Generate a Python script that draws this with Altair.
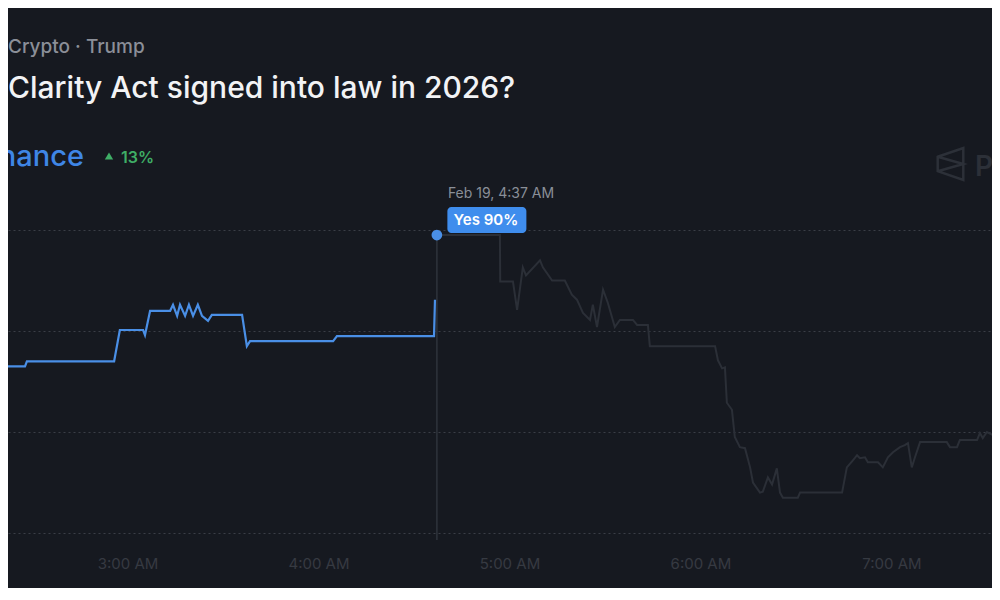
import altair as alt
import pandas as pd

# time in minutes after midnight (Feb 19), value in %
blue_t = [140.0, 147.8, 148.4, 175.8, 177.6, 184.9, 185.5, 187.1, 193.4, 194.3, 195.6, 196.5, 198.1,
          199.3, 200.6, 202.1, 203.4, 205.3, 206.5, 216.0, 217.5, 218.5, 244.6, 245.8, 276.3, 276.6]
blue_v = [76.5, 76.5, 77.0, 77.0, 80.1, 80.1, 79.6, 82.0, 82.0, 82.6, 81.5, 82.6, 81.5,
          82.6, 81.5, 82.6, 81.5, 81.0, 81.6, 81.6, 78.5, 79.0, 79.0, 79.5, 79.5, 83.1]

gray_t = [277.2, 297.0, 297.1, 301.1, 302.4, 304.2, 305.2, 309.6, 310.5, 313.4, 317.4, 319.6, 321.2,
          323.1, 325.3, 326.2, 327.5, 329.4, 330.9, 333.1, 334.7, 338.8, 340.1, 343.5, 344.1, 364.6,
          365.5, 366.8, 367.7, 368.3, 369.9, 370.8, 372.4, 374.0, 375.6, 376.5, 378.7, 379.6, 381.2,
          382.5, 384.0, 385.0, 385.9, 390.6, 391.3, 404.5, 406.0, 407.9, 409.2, 410.1, 411.7, 412.6,
          415.8, 417.3, 418.9, 420.5, 422.7, 424.2, 425.2, 426.4, 427.4, 429.0, 437.4, 438.4, 440.6,
          441.5, 446.9, 447.8, 448.7, 450.0, 451.9, 454.1]
gray_v = [89.5, 89.5, 84.9, 84.9, 82.1, 86.3, 85.5, 87.0, 86.3, 85.0, 85.0, 83.6, 83.1,
          81.8, 81.1, 82.6, 80.4, 84.1, 82.8, 80.4, 81.1, 81.1, 80.6, 80.6, 78.5, 78.5,
          77.1, 76.3, 76.4, 72.9, 72.2, 69.5, 68.5, 68.4, 66.5, 65.0, 64.0, 64.1, 65.5,
          64.8, 66.4, 64.0, 63.5, 63.5, 64.0, 64.0, 66.5, 67.2, 67.7, 67.4, 67.5, 67.0,
          67.0, 66.5, 67.5, 68.0, 68.5, 68.7, 68.9, 66.5, 67.5, 69.0, 69.0, 68.5, 68.5,
          69.2, 69.2, 69.9, 69.4, 70.0, 69.7, 68.9]

hover_t = [277.2]
hover_v = [89.5]
hover_date = ["Feb 19, 4:37 AM"]
hover_label = ["Yes 90%"]

grid_values = [60, 70, 80, 90]
tick_minutes = [180, 240, 300, 360, 420]
x_domain = [142.46, 451.6]
y_domain = [60, 92.18]

category_text = "Crypto · Trump"
title_text = "Clarity Act signed into law in 2026?"
chance_text = "90% chance"
change_text = "13%"
brand_text = "Polymarket"

BG = "#161920"
BLUE = "#4a8fe6"

blue_df = pd.DataFrame({"t": blue_t, "v": blue_v})
gray_df = pd.DataFrame({"t": gray_t, "v": gray_v})
hover_df = pd.DataFrame({"t": hover_t, "v": hover_v, "date": hover_date, "label": hover_label})
one = pd.DataFrame({"a": [0]})

xs = alt.Scale(domain=x_domain, nice=False, zero=False)
ys = alt.Scale(domain=y_domain, nice=False, zero=False)

X = alt.X("t:Q", scale=xs, title=None,
          axis=alt.Axis(values=tick_minutes, labelExpr="floor(datum.value/60) + ':00 AM'",
                        grid=False, domain=False, ticks=False, labelColor="#363a42",
                        labelFontSize=15, labelFont="Inter", labelPadding=30,
                        labelBaseline="middle"))
Y = alt.Y("v:Q", scale=ys, title=None,
          axis=alt.Axis(values=grid_values, labels=False, ticks=False, domain=False, grid=True,
                        gridColor="#3a3e46", gridDash=[2, 3], gridWidth=1))
Xn = alt.X("t:Q", scale=xs, title=None)
Yn = alt.Y("v:Q", scale=ys, title=None)

gray_line = alt.Chart(gray_df).mark_line(color="#2b2f37", strokeWidth=2, clip=True).encode(x=X, y=Y)
rule = alt.Chart(hover_df).mark_rule(color="#2f333b", strokeWidth=1.5).encode(
    x=Xn, y=Yn, y2=alt.value(332))
blue_line = alt.Chart(blue_df).mark_line(color=BLUE, strokeWidth=2.2, clip=True).encode(x=Xn, y=Yn)
dot = alt.Chart(hover_df).mark_circle(color=BLUE, size=115, opacity=1).encode(x=Xn, y=Yn)
box = alt.Chart(hover_df).mark_rect(color="#3f8ded", cornerRadius=4, xOffset=10.5, x2Offset=89.5,
                                    yOffset=-28, y2Offset=-2).encode(
    x=Xn, x2="t:Q", y=Yn, y2="v:Q")
box_text = alt.Chart(hover_df).mark_text(color="#ffffff", fontSize=15, fontWeight=600, font="Inter",
                                         dx=49, dy=-15, baseline="middle", align="center").encode(
    x=Xn, y=Yn, text="label:N")
date_text = alt.Chart(hover_df).mark_text(color="#8a8f98", fontSize=14, font="Inter",
                                          dx=11, dy=-41, baseline="middle", align="left").encode(
    x=Xn, y=Yn, text="date:N")

def label(txt, x, y, size, color, weight=400, align="left"):
    return alt.Chart(one).mark_text(text=txt, fontSize=size, color=color, fontWeight=weight,
                                    font="Inter", align=align, baseline="alphabetic").encode(
        x=alt.value(x), y=alt.value(y))

cat = label(category_text, 0, -155, 19, "#8b8f98", 500)
ttl = label(title_text, 0, -110, 30, "#f2f3f5", 500)
chance = label(chance_text, 76, -42, 29, "#3f86e6", 500, align="right")
tri = alt.Chart(one).mark_point(shape="triangle-up", filled=True, color="#3fae66", size=70, opacity=1).encode(
    x=alt.value(101), y=alt.value(-52))
chg = label(change_text, 113, -45, 16, "#3fae66", 600)
logo = alt.Chart(one).mark_point(
    shape="M-0.8,-0.45L0.8,-1L0.8,1L-0.8,0.45Z M-0.8,-0.45L0.8,0L-0.8,0.45",
    filled=False, color="#2c3038", strokeWidth=2.5, size=1024, opacity=1).encode(
    x=alt.value(942.5), y=alt.value(-44))
brand = label(brand_text, 967, -32, 28, "#2c3038", 600)

chart = alt.layer(gray_line, rule, blue_line, dot, box, box_text, date_text,
                  cat, ttl, chance, tri, chg, logo, brand).properties(
    width=984, height=325,
    padding={"left": 0, "right": 0, "top": 200, "bottom": 55},
    autosize=alt.AutoSizeParams(type="none"),
).configure(background=BG).configure_view(stroke=None)

chart.save("out.html", embed_options={"renderer": "svg", "actions": False})
